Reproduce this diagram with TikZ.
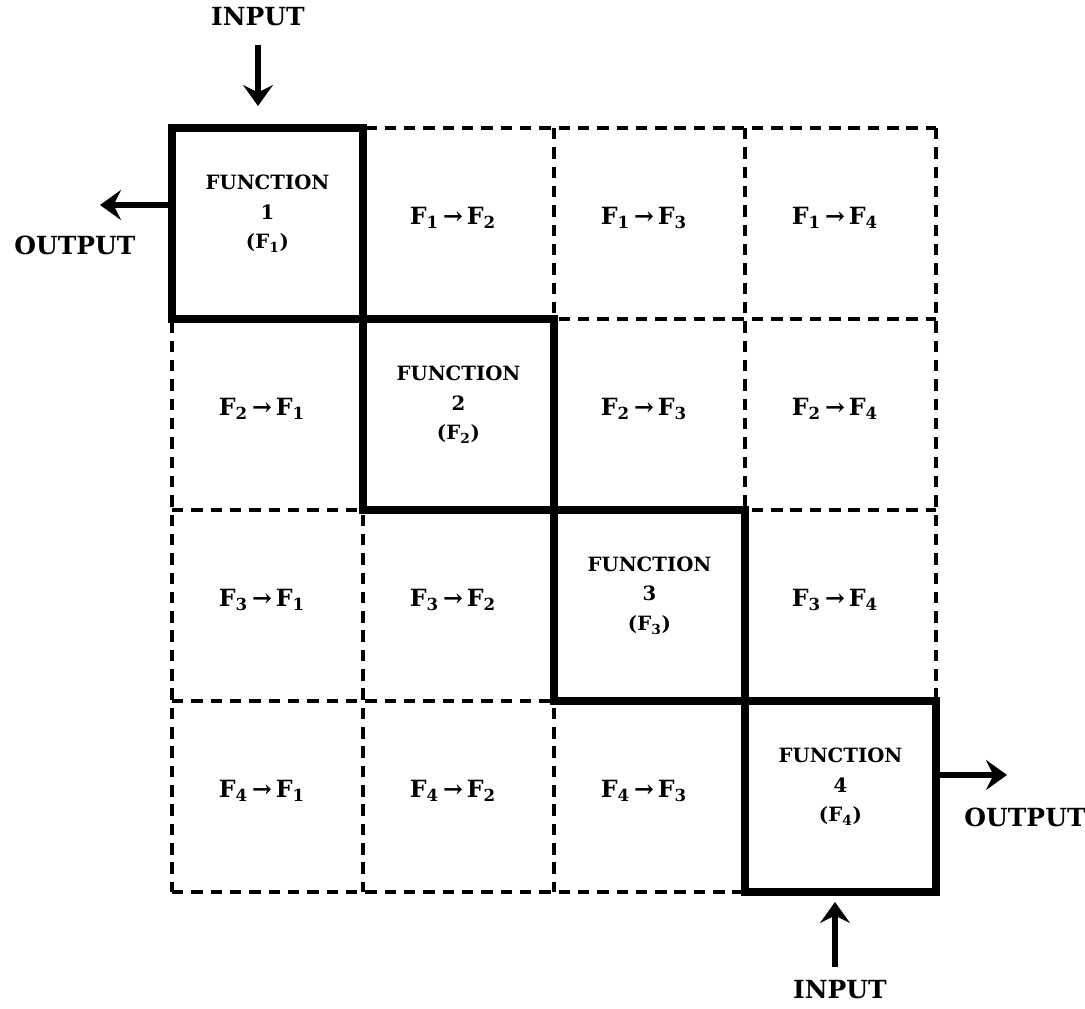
\documentclass[tikz,border=0pt]{standalone}
\usepackage{fontspec}
\setmainfont{DejaVu Serif}
\usetikzlibrary{arrows.meta}

\begin{document}
\begin{tikzpicture}[x=0.02cm,y=-0.02cm,
  >={Stealth[length=4.2mm,width=6mm,inset=1.5mm]},
  grid/.style={line width=2pt,dash pattern=on 6.5pt off 4.5pt},
  funbox/.style={draw,line width=4.6pt,minimum size=3.82cm,inner sep=0pt},
  fname/.style={align=center,font=\bfseries\fontsize{11.2}{17}\selectfont},
  pair/.style={font=\bfseries\fontsize{13.5}{15}\selectfont},
  flow/.style={->,line width=3pt},
  lbl/.style={font=\bfseries\fontsize{14.2}{16}\selectfont}]
  \useasboundingbox (0,0) rectangle (1085,1008);
  % ---------- dashed 4x4 grid
  \foreach \k in {0,...,4}{
    \draw[grid] (172+191*\k,128) -- (172+191*\k,892);
    \draw[grid] (172,128+191*\k) -- (936,128+191*\k);}
  % ---------- off-diagonal links F_i -> F_j
  \foreach \i in {1,...,4}{
    \foreach \j in {1,...,4}{
      \ifnum\i=\j\else
        \node[pair] (p-\i-\j) at (172+191*\j-101,128+191*\i-101)
          {F\textsubscript{\i}\,→\,F\textsubscript{\j}};
      \fi}}
  % ---------- the functions on the diagonal
  \foreach \i in {1,...,4}{
    \node[funbox] (fun-\i) at (172+191*\i-95.5,128+191*\i-95.5) {};
    \node[fname] (name-\i) at ([yshift=0.2cm]fun-\i.center)
      {FUNCTION\\\i\\(F\textsubscript{\i})};}
  % ---------- inputs and outputs
  \node[lbl] (in-top) at (258,17) {INPUT};
  \draw[flow,shorten <=0.26cm,shorten >=0.36cm] (in-top) -- (in-top |- fun-1.north);
  \coordinate (out-left-end) at (100,205);
  \draw[flow] (out-left-end -| fun-1.west) -- (out-left-end);
  \node[lbl] (out-left) at (75,245) {OUTPUT};
  \coordinate (out-right-end) at (1007,775);
  \draw[flow] (out-right-end -| fun-4.east) -- (out-right-end);
  \node[lbl] (out-right) at (1025,817) {OUTPUT};
  \node[lbl] (in-bot) at (840,990) {INPUT};
  \coordinate (in-bot-start) at (835,967);
  \draw[flow,shorten >=0.12cm] (in-bot-start) -- (in-bot-start |- fun-4.south);
\end{tikzpicture}
\end{document}
